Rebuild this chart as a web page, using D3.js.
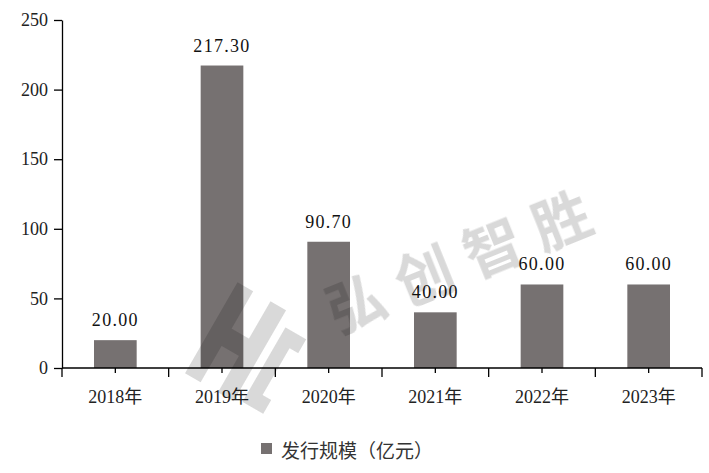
<!DOCTYPE html>
<html>
<head>
<meta charset="utf-8">
<script src="https://cdn.jsdelivr.net/npm/d3@7"></script>
<style>
  body { margin: 0; background: #fff; }
  .axis text { font-family: "Liberation Serif", "Noto Sans CJK SC", serif; font-size: 18px; fill: #222; }
  .axis path, .axis line { stroke: #000; stroke-width: 1.3; }
</style>
</head>
<body>
<div id="chart"></div>
<script>
const years = ["2018年", "2019年", "2020年", "2021年", "2022年", "2023年"];
const issueSize = [20.0, 217.3, 90.7, 40.0, 60.0, 60.0];
const yTicks = [0, 50, 100, 150, 200, 250];
const legendLabel = "发行规模（亿元）";
const watermark = "弘创智胜";

const width = 709;
const height = 473;
const margin = { top: 20, right: 7, bottom: 105, left: 62 };
const barColor = "#767171";

const svg = d3.select("#chart")
  .append("svg")
  .attr("width", width)
  .attr("height", height);

const x = d3.scaleBand()
  .domain(years)
  .range([margin.left, width - margin.right])
  .paddingInner(0.6)
  .paddingOuter(0.3);

const y = d3.scaleLinear()
  .domain([0, 250])
  .range([height - margin.bottom, margin.top]);

// bars
svg.append("g")
  .selectAll("rect")
  .data(issueSize)
  .join("rect")
  .attr("x", (d, i) => x(years[i]))
  .attr("y", d => y(d))
  .attr("width", x.bandwidth())
  .attr("height", d => y(0) - y(d))
  .attr("fill", barColor);

// value labels
svg.append("g")
  .selectAll("text")
  .data(issueSize)
  .join("text")
  .attr("x", (d, i) => x(years[i]) + x.bandwidth() / 2)
  .attr("y", d => y(d) - 14)
  .attr("text-anchor", "middle")
  .style("font-family", "'Liberation Serif', serif")
  .style("font-size", "18px")
  .style("letter-spacing", "1.3px")
  .attr("fill", "#111")
  .text(d => d.toFixed(2));

// y axis
svg.append("g")
  .attr("class", "axis")
  .attr("transform", `translate(${margin.left},0)`)
  .call(d3.axisLeft(y).tickValues(yTicks).tickSize(8).tickPadding(6).tickSizeOuter(0));

// x axis: short ticks at centres, long ticks at category boundaries
const xAxisY = y(0);
const xg = svg.append("g")
  .attr("class", "axis")
  .attr("transform", `translate(0,${xAxisY})`);
xg.call(d3.axisBottom(x).tickSize(5).tickPadding(14).tickSizeOuter(0));
xg.selectAll(".tick text").attr("dy", "0.9em");
const step = x.step();
const bounds = d3.range(years.length + 1).map(i => margin.left + i * step);
xg.selectAll(".bound")
  .data(bounds)
  .join("line")
  .attr("class", "bound")
  .attr("x1", d => d).attr("x2", d => d)
  .attr("y1", 0).attr("y2", 9)
  .attr("stroke", "#000")
  .attr("stroke-width", 1.3);
xg.select(".domain").attr("d", `M${margin.left},0H${bounds[bounds.length - 1]}`);

// watermark
const wm = svg.append("g").attr("opacity", 0.15).attr("pointer-events", "none");
wm.append("text")
  .attr("transform", "translate(468,264) rotate(-22)")
  .attr("text-anchor", "middle")
  .attr("dominant-baseline", "middle")
  .style("font-family", "'Noto Sans CJK SC', sans-serif")
  .style("font-size", "58px")
  .style("font-weight", "bold")
  .style("letter-spacing", "16px")
  .attr("fill", "#000")
  .text(watermark);
const logo = wm.append("g").attr("transform", "translate(236,345) rotate(30)");
logo.append("path")
  .attr("d", "M-30,-55 L-12,-55 L-12,-12 L8,-12 L8,-55 L26,-55 L26,50 L8,50 L8,8 L-12,8 L-12,50 L-30,50 Z")
  .attr("fill", "#000");
logo.append("path")
  .attr("d", "M34,-40 L58,-40 L58,-24 L48,-24 L48,30 L58,30 L58,46 L34,46 Z")
  .attr("fill", "#000");

// legend
const lg = svg.append("g").attr("transform", "translate(261,449)");
lg.append("rect")
  .attr("x", 0).attr("y", -6)
  .attr("width", 11).attr("height", 11)
  .attr("fill", barColor);
lg.append("text")
  .attr("x", 20).attr("y", 0)
  .attr("dominant-baseline", "central")
  .style("font-family", "'Noto Sans CJK SC', sans-serif")
  .style("font-size", "19px")
  .attr("fill", "#333")
  .text(legendLabel);
</script>
</body>
</html>
